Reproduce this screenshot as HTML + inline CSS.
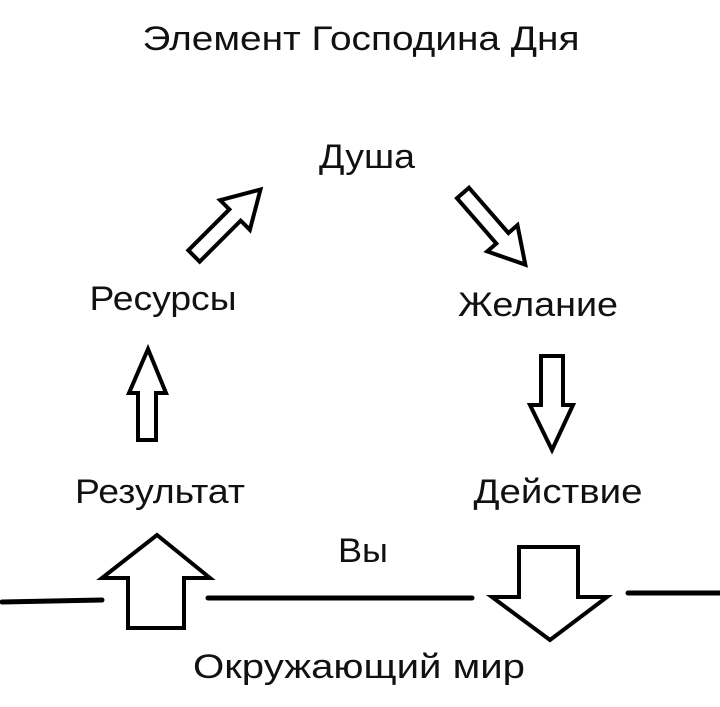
<!DOCTYPE html>
<html><head><meta charset="utf-8"><style>
html,body{margin:0;padding:0;background:#fff;}
svg{display:block;}
text{font-family:"Liberation Sans","DejaVu Sans",sans-serif;fill:#111;text-anchor:middle;}
</style></head><body>
<svg width="720" height="707" viewBox="0 0 720 707">
<text x="361" y="50" font-size="34" textLength="437" lengthAdjust="spacingAndGlyphs">Элемент Господина Дня</text>
<text x="367" y="168" font-size="34" textLength="96" lengthAdjust="spacingAndGlyphs">Душа</text>
<text x="163" y="310" font-size="34" textLength="147" lengthAdjust="spacingAndGlyphs">Ресурсы</text>
<text x="538" y="316" font-size="34" textLength="160" lengthAdjust="spacingAndGlyphs">Желание</text>
<text x="160" y="503" font-size="34" textLength="170" lengthAdjust="spacingAndGlyphs">Результат</text>
<text x="558" y="503" font-size="34" textLength="169" lengthAdjust="spacingAndGlyphs">Действие</text>
<text x="363" y="562" font-size="34" textLength="50" lengthAdjust="spacingAndGlyphs">Вы</text>
<text x="359" y="678" font-size="34" textLength="332" lengthAdjust="spacingAndGlyphs">Окружающий мир</text>
<g fill="none" stroke="#000" stroke-width="4" stroke-linejoin="miter">
<polygon points="148,349 166,393 156,393 156,440 138,440 138,393 129,393"/>
<polygon points="541,356 563,356 563,405 573,405 552,450 530,405 541,405"/>
<g transform="translate(194,256) rotate(-45)">
<polygon points="0,-8 58,-8 58,-21 94,0 58,21 58,8 0,8"/>
</g>
<g transform="translate(463,193) rotate(49)">
<polygon points="0,-8 60,-8 60,-20 95,0 60,20 60,8 0,8"/>
</g>
<polygon points="157,535 210,578 184,578 184,628 128,628 128,578 102,578"/>
<polygon points="519,547 578,547 578,597 607,597 550,640 492,597 519,597"/>
</g>
<g stroke="#000" stroke-width="5" stroke-linecap="round">
<line x1="2" y1="602" x2="102" y2="600"/>
<line x1="208" y1="598" x2="472" y2="598"/>
<line x1="628" y1="593" x2="720" y2="593"/>
</g>
</svg>
</body></html>
